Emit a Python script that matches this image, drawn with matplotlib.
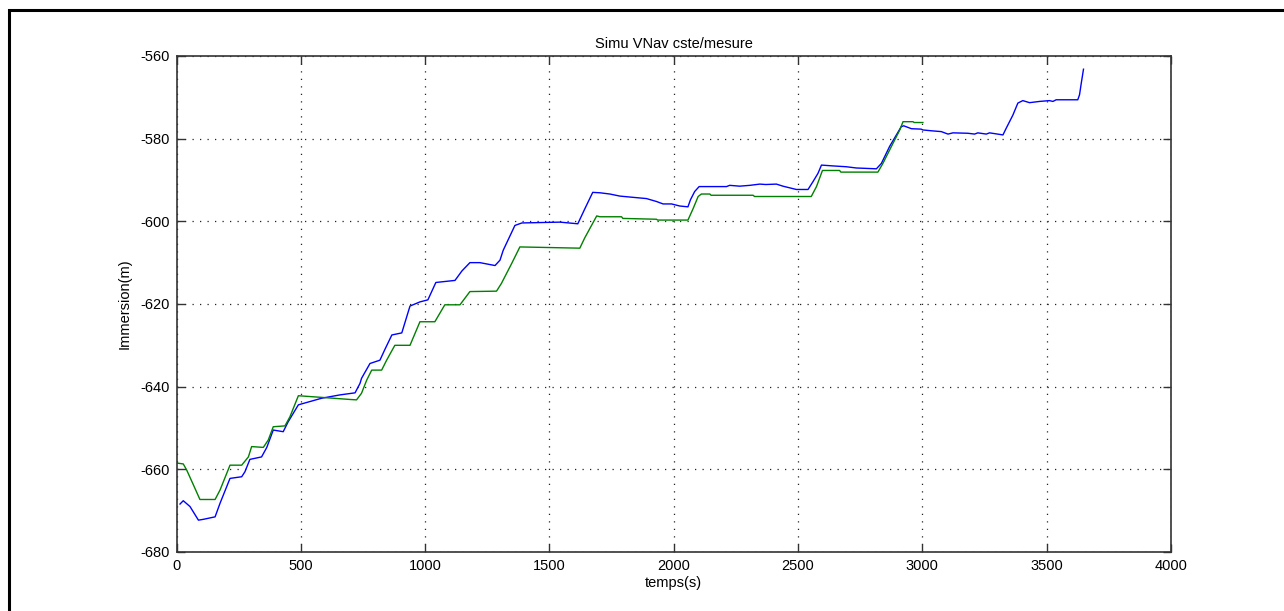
import numpy as np
import matplotlib
matplotlib.use('Agg')
import matplotlib.pyplot as plt
from matplotlib.patches import Rectangle

# Immersion simulée avec VNav constante (bleu) et immersion mesurée (vert)
t_simu = [14, 27, 54, 88, 108, 155, 175, 215, 262, 275, 295, 342, 363, 389, 429,
          449, 490, 537, 584, 657, 718, 738, 744, 778, 818, 838, 866, 906, 939,
          979, 1011, 1043, 1120, 1148, 1180, 1220, 1281, 1301, 1314, 1361, 1389,
          1542, 1614, 1642, 1674, 1703, 1743, 1783, 1836, 1890, 1930, 1957, 1991,
          2024, 2057, 2067, 2084, 2102, 2212, 2225, 2265, 2306, 2346, 2370, 2413,
          2439, 2466, 2493, 2540, 2560, 2580, 2594, 2640, 2694, 2734, 2815, 2835,
          2868, 2915, 2925, 2956, 2995, 3002, 3036, 3076, 3103, 3123, 3183, 3210,
          3223, 3257, 3270, 3324, 3337, 3364, 3384, 3404, 3431, 3471, 3511, 3525,
          3538, 3625, 3632, 3639, 3648]
z_simu = [-668.4, -667.6, -669.0, -672.3, -672.1, -671.5, -668.2, -662.2, -661.8,
          -660.6, -657.6, -657.0, -654.7, -650.5, -650.9, -648.5, -644.4, -643.6,
          -642.8, -642.0, -641.5, -639.2, -638.0, -634.4, -633.6, -631.0, -627.5,
          -627.0, -620.5, -619.5, -619.0, -614.8, -614.3, -612.0, -610.0, -610.0,
          -610.7, -609.4, -607.0, -601.0, -600.4, -600.2, -600.6, -597.0, -593.0,
          -593.1, -593.4, -593.9, -594.2, -594.5, -595.2, -595.8, -595.8, -596.3,
          -596.5, -594.8, -592.8, -591.6, -591.6, -591.3, -591.5, -591.3, -591.0,
          -591.1, -591.0, -591.5, -591.9, -592.3, -592.3, -590.4, -588.4, -586.4,
          -586.6, -586.8, -587.1, -587.3, -586.0, -581.9, -577.1, -576.9, -577.6,
          -577.7, -577.9, -578.1, -578.3, -578.9, -578.6, -578.7, -578.9, -578.6,
          -578.9, -578.6, -579.1, -577.5, -574.3, -571.4, -570.8, -571.3, -571.0,
          -570.8, -571.0, -570.6, -570.6, -569.4, -566.6, -563.2]

t_mesure = [3, 27, 41, 68, 94, 155, 175, 215, 262, 289, 302, 349, 369, 389, 436,
            456, 490, 584, 697, 724, 744, 765, 785, 825, 845, 878, 939, 979, 1039,
            1079, 1140, 1180, 1287, 1307, 1348, 1381, 1622, 1642, 1690, 1703, 1790,
            1795, 1930, 1935, 2057, 2078, 2098, 2111, 2145, 2150, 2319, 2325, 2553,
            2574, 2598, 2667, 2672, 2821, 2841, 2882, 2909, 2922, 2962, 2967, 3002]
z_mesure = [-658.5, -658.7, -660.2, -663.8, -667.3, -667.3, -665.0, -659.0, -659.0,
            -657.0, -654.5, -654.7, -652.9, -649.7, -649.5, -647.3, -642.2, -642.6,
            -643.1, -643.2, -641.6, -638.4, -636.0, -636.0, -633.6, -630.0, -630.0,
            -624.3, -624.3, -620.2, -620.2, -617.0, -616.9, -615.0, -610.2, -606.2,
            -606.5, -604.0, -598.7, -598.9, -598.9, -599.3, -599.5, -599.7, -599.7,
            -596.9, -594.0, -593.4, -593.4, -593.7, -593.7, -594.0, -594.0, -591.6,
            -587.7, -587.7, -588.1, -588.1, -586.0, -581.1, -577.9, -575.9, -575.9,
            -576.1, -576.1]

xticks = [0, 500, 1000, 1500, 2000, 2500, 3000, 3500, 4000]
yticks = [-680, -660, -640, -620, -600, -580, -560]

plt.rcParams['font.family'] = ['Liberation Sans', 'DejaVu Sans']
plt.rcParams['axes.unicode_minus'] = False

fig = plt.figure(figsize=(12.84, 6.11), dpi=100)
ax = fig.add_axes([0.1375, 0.0966, 0.7745, 0.8118])

ax.plot(t_simu, z_simu, color='#0000FF', linewidth=1.0)
ax.plot(t_mesure, z_mesure, color='#008000', linewidth=1.0)

ax.set_xlim(0, 4000)
ax.set_ylim(-680, -560)
ax.set_xticks(xticks)
ax.set_yticks(yticks)
ax.tick_params(direction='in', length=6, width=1, color='#333333',
               top=True, right=True, labelsize=10.5, pad=5)
for s in ax.spines.values():
    s.set_color('#333333')
    s.set_linewidth(1.2)

ax.grid(True, color='#222222', linestyle=(0, (1, 5)), linewidth=0.9)

ax.set_title('Simu VNav cste/mesure', fontsize=10.5, pad=6)
ax.set_xlabel('temps(s)', fontsize=10.5, labelpad=2)
ax.set_ylabel('Immersion(m)', fontsize=10.5, labelpad=6)

# cadre noir autour de la figure
fig.patches.append(Rectangle((9 / 1284, -0.1), 1.2, (611 - 10) / 611 + 0.1,
                             transform=fig.transFigure, fill=False,
                             edgecolor='black', linewidth=2.2))

fig.savefig('out.png', dpi=100)
